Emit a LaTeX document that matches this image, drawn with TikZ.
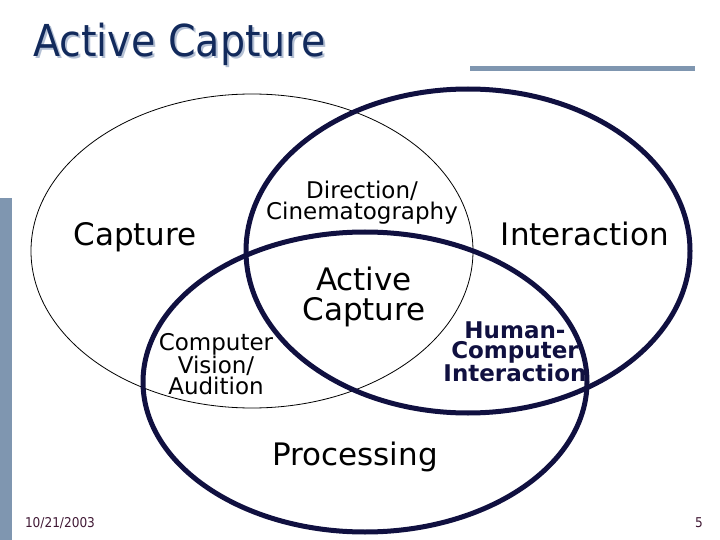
\documentclass[tikz,border=0pt]{standalone}
\usepackage{fontspec}
\setmainfont{DejaVu Sans}
\newfontfamily\condfont{DejaVu Sans Condensed}

\definecolor{navy}{RGB}{16,16,64}
\definecolor{slate}{RGB}{127,150,176}
\definecolor{titleblue}{RGB}{18,42,92}
\definecolor{titleshadow}{RGB}{180,192,212}
\definecolor{footer}{RGB}{64,24,52}

\begin{document}
\begin{tikzpicture}[x=1pt,y=-1pt,
  set/.style={line width=5pt,draw=navy},
  lbl/.style={inner sep=0pt,align=center},
  big/.style={font=\fontsize{31}{30}\selectfont},
  small/.style={font=\fontsize{23}{21}\selectfont},
  foot/.style={inner sep=0pt,anchor=base,text=footer,font=\condfont\fontsize{13.5}{13.5}\selectfont}]

\useasboundingbox
(0,0)
rectangle
(720,540);

% Bars
\fill[slate]
(0,198)
rectangle
(12,540);

\fill[slate]
(470,66)
rectangle
(695,71);

% Title
\node[lbl,anchor=base west,text=titleshadow,font=\condfont\fontsize{44}{44}\selectfont] (shadow) at (35,59)
{Active Capture};

\node[lbl,anchor=base west,text=titleblue,font=\condfont\fontsize{44}{44}\selectfont] (title) at (33,57)
{Active Capture};

% Capture
\draw[line width=0.8pt]
(252,251)
ellipse
[x radius=221, y radius=157];

% Interaction
\draw[set]
(468,251)
ellipse
[x radius=222, y radius=162];

% Processing
\draw[set]
(365,382)
ellipse
[x radius=222, y radius=150];

% Labels
\node[lbl,big] (capture) at (135,237)
{Capture};

\node[lbl,big] (interaction) at (585,234)
{Interaction};

\node[lbl,big] (processing) at (355,457)
{Processing};

\node[lbl,big] (active) at (364,297)
{Active\\Capture};

\node[lbl,small] (direction) at (362,203)
{Direction/\\Cinematography};

\node[lbl,small] (vision) at (216,364)
{Computer\\Vision/\\Audition};

\node[lbl,text=navy,font=\bfseries\fontsize{23}{19.5}\selectfont] (hci) at (515,352)
{Human-\\Computer\\Interaction};

% Footer
\node[foot] (date) at (60,527)
{10/21/2003};

\node[foot] (page) at (699,527)
{5};

\end{tikzpicture}
\end{document}
